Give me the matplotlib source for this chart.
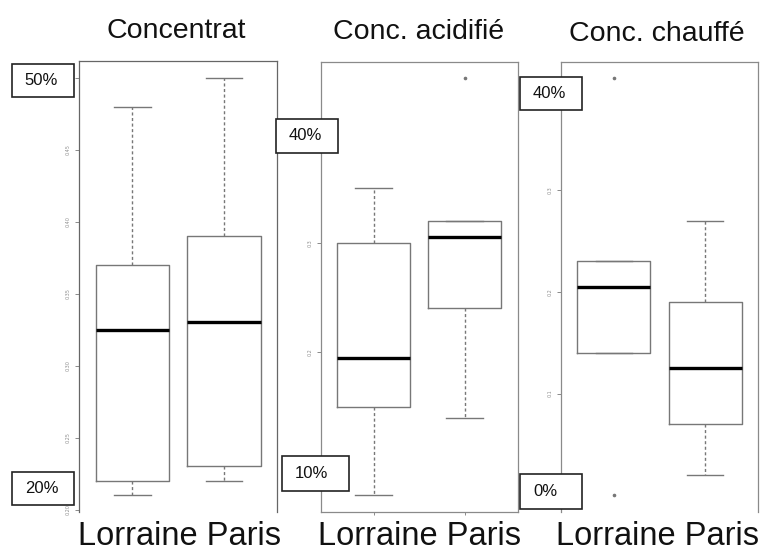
import matplotlib
matplotlib.use("Agg")
import matplotlib.pyplot as plt
import matplotlib.font_manager as fm
from matplotlib.patches import Rectangle

# ---------------- data ----------------
panel_titles = ["Concentrat", "Conc. acidifié", "Conc. chauffé"]
groups = ["Lorraine", "Paris"]

# five-number summaries: whisker low, Q1, median, Q3, whisker high
concentrat_lorraine = [0.21, 0.22, 0.325, 0.37, 0.48]
concentrat_paris = [0.22, 0.23, 0.33, 0.39, 0.50]
acidifie_lorraine = [0.07, 0.15, 0.195, 0.30, 0.35]
acidifie_paris = [0.14, 0.24, 0.305, 0.32, 0.32]
chauffe_lorraine = [0.14, 0.14, 0.205, 0.23, 0.23]
chauffe_paris = [0.02, 0.07, 0.125, 0.19, 0.27]

# outliers
concentrat_fliers = [[], []]
acidifie_fliers = [[], [0.45]]
chauffe_fliers = [[0.41, 0.0], []]

# y tick values and their (small, rotated) labels; labels covered by the
# percentage boxes in the reference are left blank
concentrat_ticks = [0.20, 0.25, 0.30, 0.35, 0.40, 0.45, 0.50]
concentrat_ticklabels = ["0.20", "0.25", "0.30", "0.35", "0.40", "0.45", ""]
acidifie_ticks = [0.1, 0.2, 0.3, 0.4]
acidifie_ticklabels = ["", "0.2", "0.3", ""]
chauffe_ticks = [0.0, 0.1, 0.2, 0.3, 0.4]
chauffe_ticklabels = ["", "0.1", "0.2", "0.3", ""]

# overlay percentage labels
pct_labels = ["50%", "20%", "40%", "10%", "40%", "0%"]

# ---------------- figure ----------------
W, H = 767, 553
fig = plt.figure(figsize=(W / 100, H / 100), dpi=100)
fig.patch.set_facecolor("white")


def fx(px):
    return px / W


def fy(py):
    return (H - py) / H


axes_px = [(79, 61, 277, 512), (320.7, 61.5, 517.5, 511.5), (561, 61.5, 758, 512)]
summaries = [(concentrat_lorraine, concentrat_paris),
             (acidifie_lorraine, acidifie_paris),
             (chauffe_lorraine, chauffe_paris)]
fliers_all = [concentrat_fliers, acidifie_fliers, chauffe_fliers]
ticks_all = [concentrat_ticks, acidifie_ticks, chauffe_ticks]
ticklabels_all = [concentrat_ticklabels, acidifie_ticklabels, chauffe_ticklabels]
frame_colors = ["#666666", "#8a8a8a", "#8a8a8a"]

gray = "#777777"
for i in range(3):
    l, t, r, b = axes_px[i]
    ax = fig.add_axes([fx(l), fy(b), fx(r) - fx(l), fy(t) - fy(b)])
    stats = []
    allv = []
    for j, s in enumerate(summaries[i]):
        stats.append(dict(whislo=s[0], q1=s[1], med=s[2], q3=s[3], whishi=s[4],
                          fliers=fliers_all[i][j], label=groups[j]))
        allv += list(s) + list(fliers_all[i][j])
    ax.bxp(stats, positions=[1, 2], widths=0.8, manage_ticks=False,
           boxprops=dict(color=gray, linewidth=1.0),
           whiskerprops=dict(color=gray, linewidth=1.0, linestyle=(0, (2.2, 1.8))),
           capprops=dict(color=gray, linewidth=1.0),
           medianprops=dict(color="black", linewidth=2.4),
           flierprops=dict(marker="o", markersize=1.6, markerfacecolor=gray,
                           markeredgecolor=gray))
    lo, hi = min(allv), max(allv)
    pad = (hi - lo) * 0.04
    ax.set_ylim(lo - pad, hi + pad)
    ax.set_xlim(0.42, 2.58)
    ax.set_yticks(ticks_all[i])
    ax.set_yticklabels(ticklabels_all[i], rotation=90, va="center",
                       fontsize=3.5, color="#8f8f8f")
    ax.tick_params(axis="y", length=3, width=0.6, color=gray, pad=3)
    ax.set_xticks([1, 2])
    ax.set_xticklabels(["", ""])
    if i == 1:
        ax.tick_params(axis="x", length=2, width=0.6, color=gray)
    else:
        ax.tick_params(axis="x", length=0)
        ax.spines["bottom"].set_visible(False)
    for sp in ax.spines.values():
        sp.set_color(frame_colors[i])
        sp.set_linewidth(0.9)
    ax.set_facecolor("white")

# panel titles
title_pos = [(176, 38), (418.5, 39), (657, 41)]
for txt, (x, y) in zip(panel_titles, title_pos):
    fig.text(fx(x), fy(y), txt, ha="center", va="baseline",
             fontsize=20.5, family="Liberation Sans", color="#111111")

# bottom group labels
avail = {f.name for f in fm.fontManager.ttflist}
if "Liberation Sans Narrow" in avail:
    bfam, bsize = "Liberation Sans Narrow", 28
else:
    bfam, bsize = "Liberation Sans", 23.5
bottom_centers = [180, 420, 658]
for x in bottom_centers:
    fig.text(fx(x), fy(552), " ".join(groups), ha="center", va="bottom",
             fontsize=bsize, family=bfam, color="#111111")

# percentage overlay boxes (layout in pixels)
pct_boxes = [(11.7, 64, 62.3, 33.3), (11.7, 471.7, 62.3, 33.3),
             (276, 119, 61.7, 33.7), (281.7, 456, 67, 34.7),
             (520, 76.7, 61.7, 33.6), (520, 474.3, 61.7, 34.4)]
for lab, (x, y, w, h) in zip(pct_labels, pct_boxes):
    rect = Rectangle((fx(x), fy(y + h)), w / W, h / H, transform=fig.transFigure,
                     facecolor="white", edgecolor="#222222", linewidth=1.2,
                     zorder=10)
    fig.patches.append(rect)
    fig.text(fx(x + 13), fy(y + h / 2), lab, ha="left", va="center",
             fontsize=12, family="Liberation Sans", color="#111111", zorder=11)

fig.savefig("out.png", dpi=100, facecolor="white")
